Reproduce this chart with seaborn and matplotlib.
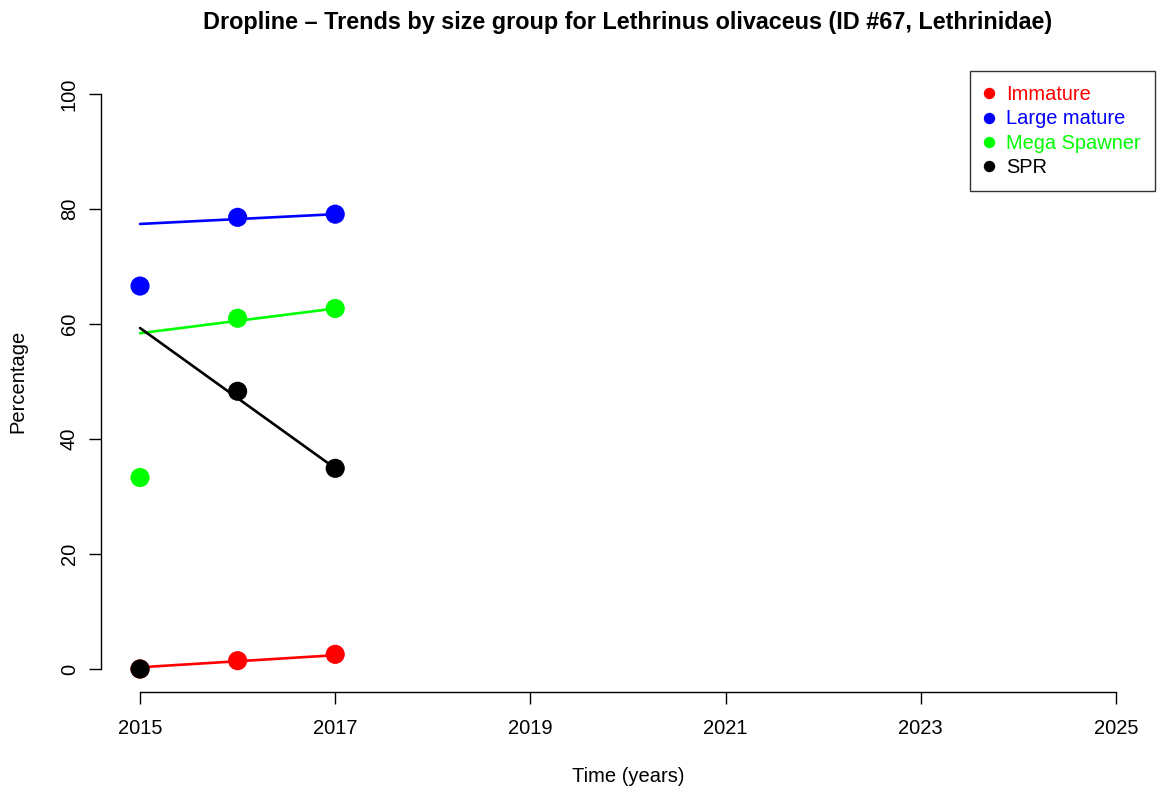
import pandas as pd
import numpy as np
import matplotlib
matplotlib.use('Agg')
import matplotlib.pyplot as plt
import seaborn as sns
from matplotlib.lines import Line2D

sns.set_style('white')
plt.rcParams['font.family'] = ['Liberation Sans', 'DejaVu Sans']

# Observed percentages per size group.
years = [2015, 2016, 2017]
groups = ['Immature', 'Large mature', 'Mega Spawner', 'SPR']
colors = ['#FF0000', '#0000FF', '#00FF00', '#000000']
immature = [0.0, 1.45, 2.55]
large_mature = [66.6, 78.55, 79.1]
mega_spawner = [33.3, 61.0, 62.7]
spr = [0.0, 48.3, 34.9]

# Fitted trend line values at start/end years.
trend_years = [2015, 2017]
trend_immature = [0.3, 2.4]
trend_large_mature = [77.4, 79.1]
trend_mega_spawner = [58.4, 62.7]
trend_spr = [59.3, 34.9]

obs = pd.DataFrame({
    'year': years * 4,
    'pct': immature + large_mature + mega_spawner + spr,
    'group': np.repeat(groups, len(years)),
})
trend = pd.DataFrame({
    'year': trend_years * 4,
    'pct': trend_immature + trend_large_mature + trend_mega_spawner + trend_spr,
    'group': np.repeat(groups, len(trend_years)),
})

fig = plt.figure(figsize=(11.61, 7.89), dpi=100)
ax = fig.add_axes([101 / 1161, 97 / 789, 1054 / 1161, 621 / 789])

for g, c in zip(groups, colors):
    sns.scatterplot(data=obs[obs.group == g], x='year', y='pct', color=c,
                    s=190, edgecolor='none', ax=ax, zorder=3)
    sns.lineplot(data=trend[trend.group == g], x='year', y='pct', color=c,
                 linewidth=1.9, ax=ax, zorder=3)

ax.set_xlim(2014.6, 2025.4)
ax.set_ylim(-4, 104)
ax.set_xticks(range(2015, 2026, 2))
ax.set_yticks(range(0, 101, 20))
for lab in ax.get_yticklabels():
    lab.set_rotation(90)
    lab.set_va('center')
ax.tick_params(axis='both', direction='out', length=8.4, width=1,
               labelsize=14.5, color='black', labelcolor='black',
               bottom=True, left=True)
ax.tick_params(axis='x', pad=11)
ax.tick_params(axis='y', pad=7.5)
for side in ['top', 'right']:
    ax.spines[side].set_visible(False)
ax.spines['left'].set_bounds(0, 100)
ax.spines['bottom'].set_bounds(2015, 2025)
for side in ['left', 'bottom']:
    ax.spines[side].set_color('black')
    ax.spines[side].set_linewidth(1)

ax.set_xlabel('Time (years)', fontsize=14.5, color='black')
ax.set_ylabel('Percentage', fontsize=14.5, color='black')
ax.xaxis.set_label_coords(0.5, (692 - 776) / 621)
ax.xaxis.label.set_va('center')
ax.yaxis.set_label_coords((18 - 101) / 1054, 0.5)
ax.yaxis.label.set_va('center')

fig.text(628 / 1161, 1 - 22 / 789,
         'Dropline \u2013 Trends by size group for Lethrinus olivaceus (ID #67, Lethrinidae)',
         ha='center', va='center', fontsize=16.8, fontweight='bold', color='black')

handles = [Line2D([], [], marker='o', linestyle='none', color=c, markersize=7.2)
           for c in colors]
leg = ax.legend(handles, groups, loc='upper right', bbox_to_anchor=(1, 1),
                frameon=True, fancybox=False, fontsize=14.4, handletextpad=0.6,
                labelspacing=0.255, borderpad=0.72, handlelength=0.5,
                borderaxespad=0)
leg.get_frame().set_edgecolor('black')
leg.get_frame().set_linewidth(1)
for txt, c in zip(leg.get_texts(), colors):
    txt.set_color(c)

fig.savefig('out.png', dpi=100)
